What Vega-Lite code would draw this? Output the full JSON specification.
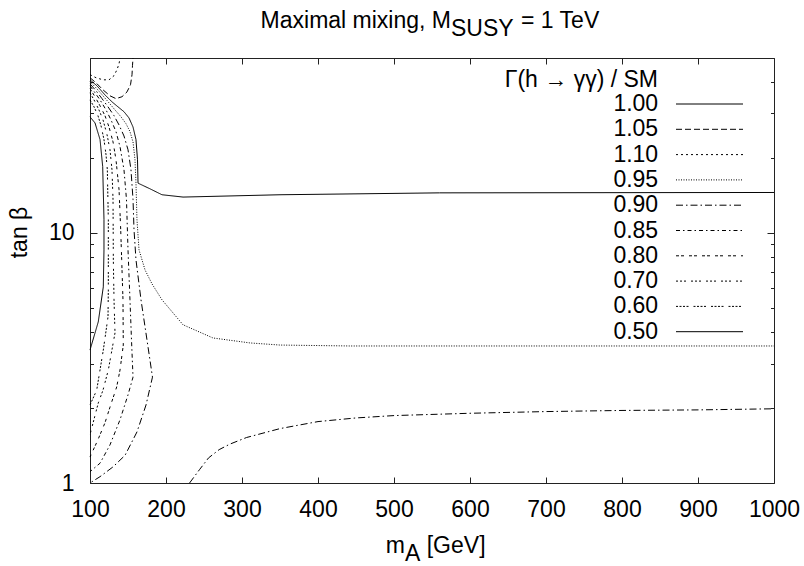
{
  "$schema": "https://vega.github.io/schema/vega-lite/v6.json",
  "width": 684,
  "height": 425,
  "autosize": {"type": "none"},
  "padding": {"left": 90, "top": 58, "right": 30, "bottom": 83},
  "background": "white",
  "config": {
    "view": {"stroke": "#222", "strokeWidth": 1},
    "font": "Liberation Sans",
    "axis": {"labelFont": "Liberation Sans", "labelFontSize": 23, "labelColor": "black", "tickColor": "#222", "domain": false, "grid": false, "labelFlush": false, "labelOverlap": false, "titleFont": "Liberation Sans", "titleFontSize": 23, "titleFontWeight": "normal", "titleColor": "black"},
    "text": {"font": "Liberation Sans", "fontSize": 23, "color": "black"}
  },
  "datasets": {
    "contours": [
      {"level":"1.10","seg":"1.10","i":0,"mA":100,"tanb":42.9},
      {"level":"1.10","seg":"1.10","i":1,"mA":107.9,"tanb":41.7},
      {"level":"1.10","seg":"1.10","i":2,"mA":117.1,"tanb":40.9},
      {"level":"1.10","seg":"1.10","i":3,"mA":125.0,"tanb":40.9},
      {"level":"1.10","seg":"1.10","i":4,"mA":131.6,"tanb":42.5},
      {"level":"1.10","seg":"1.10","i":5,"mA":135.5,"tanb":44.9},
      {"level":"1.10","seg":"1.10","i":6,"mA":138.2,"tanb":47.4},
      {"level":"1.10","seg":"1.10","i":7,"mA":139.5,"tanb":50},
      {"level":"1.05","seg":"1.05","i":0,"mA":100,"tanb":41.7},
      {"level":"1.05","seg":"1.05","i":1,"mA":107.9,"tanb":39.8},
      {"level":"1.05","seg":"1.05","i":2,"mA":117.1,"tanb":37.3},
      {"level":"1.05","seg":"1.05","i":3,"mA":126.3,"tanb":35.3},
      {"level":"1.05","seg":"1.05","i":4,"mA":134.2,"tanb":34.4},
      {"level":"1.05","seg":"1.05","i":5,"mA":142.1,"tanb":35.0},
      {"level":"1.05","seg":"1.05","i":6,"mA":148.7,"tanb":36.6},
      {"level":"1.05","seg":"1.05","i":7,"mA":153.3,"tanb":39.1},
      {"level":"1.05","seg":"1.05","i":8,"mA":155.3,"tanb":42.9},
      {"level":"1.05","seg":"1.05","i":9,"mA":155.9,"tanb":46.6},
      {"level":"1.05","seg":"1.05","i":10,"mA":156.6,"tanb":50},
      {"level":"1.00","seg":"1.00","i":0,"mA":100,"tanb":40.9},
      {"level":"1.00","seg":"1.00","i":1,"mA":109.2,"tanb":38.7},
      {"level":"1.00","seg":"1.00","i":2,"mA":119.7,"tanb":35.6},
      {"level":"1.00","seg":"1.00","i":3,"mA":128.9,"tanb":33.4},
      {"level":"1.00","seg":"1.00","i":4,"mA":136.8,"tanb":31.9},
      {"level":"1.00","seg":"1.00","i":5,"mA":144.7,"tanb":30.5},
      {"level":"1.00","seg":"1.00","i":6,"mA":151.3,"tanb":28.8},
      {"level":"1.00","seg":"1.00","i":7,"mA":156.6,"tanb":26.5},
      {"level":"1.00","seg":"1.00","i":8,"mA":160.5,"tanb":23.6},
      {"level":"1.00","seg":"1.00","i":9,"mA":162.5,"tanb":19.6},
      {"level":"1.00","seg":"1.00","i":10,"mA":163.2,"tanb":15.8},
      {"level":"1.00","seg":"1.00","i":11,"mA":178.9,"tanb":15.0},
      {"level":"1.00","seg":"1.00","i":12,"mA":194.7,"tanb":14.2},
      {"level":"1.00","seg":"1.00","i":13,"mA":222.4,"tanb":13.9},
      {"level":"1.00","seg":"1.00","i":14,"mA":350,"tanb":14.2},
      {"level":"1.00","seg":"1.00","i":15,"mA":560,"tanb":14.45},
      {"level":"1.00","seg":"1.00","i":16,"mA":1000,"tanb":14.5},
      {"level":"0.95","seg":"0.95","i":0,"mA":100,"tanb":40.2},
      {"level":"0.95","seg":"0.95","i":1,"mA":107.9,"tanb":38.0},
      {"level":"0.95","seg":"0.95","i":2,"mA":117.1,"tanb":35.3},
      {"level":"0.95","seg":"0.95","i":3,"mA":125.0,"tanb":33.1},
      {"level":"0.95","seg":"0.95","i":4,"mA":132.9,"tanb":31.0},
      {"level":"0.95","seg":"0.95","i":5,"mA":140.8,"tanb":29.1},
      {"level":"0.95","seg":"0.95","i":6,"mA":147.4,"tanb":27.3},
      {"level":"0.95","seg":"0.95","i":7,"mA":152.6,"tanb":25.4},
      {"level":"0.95","seg":"0.95","i":8,"mA":156.6,"tanb":23.1},
      {"level":"0.95","seg":"0.95","i":9,"mA":159.2,"tanb":19.6},
      {"level":"0.95","seg":"0.95","i":10,"mA":160.5,"tanb":15.8},
      {"level":"0.95","seg":"0.95","i":11,"mA":161.8,"tanb":11.3},
      {"level":"0.95","seg":"0.95","i":12,"mA":164.5,"tanb":8.55},
      {"level":"0.95","seg":"0.95","i":13,"mA":172.4,"tanb":7.11},
      {"level":"0.95","seg":"0.95","i":14,"mA":181.6,"tanb":6.25},
      {"level":"0.95","seg":"0.95","i":15,"mA":194.7,"tanb":5.40},
      {"level":"0.95","seg":"0.95","i":16,"mA":222.4,"tanb":4.29},
      {"level":"0.95","seg":"0.95","i":17,"mA":261.8,"tanb":3.80},
      {"level":"0.95","seg":"0.95","i":18,"mA":310.5,"tanb":3.63},
      {"level":"0.95","seg":"0.95","i":19,"mA":350,"tanb":3.56},
      {"level":"0.95","seg":"0.95","i":20,"mA":442,"tanb":3.53},
      {"level":"0.95","seg":"0.95","i":21,"mA":1000,"tanb":3.53},
      {"level":"0.90","seg":"0.90a","i":0,"mA":100,"tanb":39.4},
      {"level":"0.90","seg":"0.90a","i":1,"mA":107.9,"tanb":37.0},
      {"level":"0.90","seg":"0.90a","i":2,"mA":115.8,"tanb":34.4},
      {"level":"0.90","seg":"0.90a","i":3,"mA":123.7,"tanb":31.9},
      {"level":"0.90","seg":"0.90a","i":4,"mA":131.6,"tanb":29.4},
      {"level":"0.90","seg":"0.90a","i":5,"mA":138.2,"tanb":27.0},
      {"level":"0.90","seg":"0.90a","i":6,"mA":144.7,"tanb":24.4},
      {"level":"0.90","seg":"0.90a","i":7,"mA":150.0,"tanb":21.5},
      {"level":"0.90","seg":"0.90a","i":8,"mA":153.9,"tanb":17.9},
      {"level":"0.90","seg":"0.90a","i":9,"mA":156.6,"tanb":13.6},
      {"level":"0.90","seg":"0.90a","i":10,"mA":157.9,"tanb":10.3},
      {"level":"0.90","seg":"0.90a","i":11,"mA":160.5,"tanb":7.80},
      {"level":"0.90","seg":"0.90a","i":12,"mA":167.1,"tanb":5.40},
      {"level":"0.90","seg":"0.90a","i":13,"mA":175.0,"tanb":3.73},
      {"level":"0.90","seg":"0.90a","i":14,"mA":182.2,"tanb":2.65},
      {"level":"0.90","seg":"0.90a","i":15,"mA":173.7,"tanb":2.05},
      {"level":"0.90","seg":"0.90a","i":16,"mA":161.8,"tanb":1.60},
      {"level":"0.90","seg":"0.90a","i":17,"mA":146.1,"tanb":1.29},
      {"level":"0.90","seg":"0.90a","i":18,"mA":130.3,"tanb":1.16},
      {"level":"0.90","seg":"0.90a","i":19,"mA":113.2,"tanb":1.06},
      {"level":"0.90","seg":"0.90a","i":20,"mA":100,"tanb":1.0},
      {"level":"0.90","seg":"0.90b","i":0,"mA":231,"tanb":1.0},
      {"level":"0.90","seg":"0.90b","i":1,"mA":244,"tanb":1.13},
      {"level":"0.90","seg":"0.90b","i":2,"mA":256,"tanb":1.26},
      {"level":"0.90","seg":"0.90b","i":3,"mA":270,"tanb":1.36},
      {"level":"0.90","seg":"0.90b","i":4,"mA":284,"tanb":1.43},
      {"level":"0.90","seg":"0.90b","i":5,"mA":306,"tanb":1.52},
      {"level":"0.90","seg":"0.90b","i":6,"mA":350,"tanb":1.65},
      {"level":"0.90","seg":"0.90b","i":7,"mA":400,"tanb":1.76},
      {"level":"0.90","seg":"0.90b","i":8,"mA":450,"tanb":1.82},
      {"level":"0.90","seg":"0.90b","i":9,"mA":500,"tanb":1.86},
      {"level":"0.90","seg":"0.90b","i":10,"mA":600,"tanb":1.90},
      {"level":"0.90","seg":"0.90b","i":11,"mA":700,"tanb":1.93},
      {"level":"0.90","seg":"0.90b","i":12,"mA":800,"tanb":1.95},
      {"level":"0.90","seg":"0.90b","i":13,"mA":900,"tanb":1.96},
      {"level":"0.90","seg":"0.90b","i":14,"mA":1000,"tanb":1.98},
      {"level":"0.85","seg":"0.85","i":0,"mA":100,"tanb":38.7},
      {"level":"0.85","seg":"0.85","i":1,"mA":106.6,"tanb":36.3},
      {"level":"0.85","seg":"0.85","i":2,"mA":113.2,"tanb":34.0},
      {"level":"0.85","seg":"0.85","i":3,"mA":121.1,"tanb":31.0},
      {"level":"0.85","seg":"0.85","i":4,"mA":127.6,"tanb":28.3},
      {"level":"0.85","seg":"0.85","i":5,"mA":134.2,"tanb":25.4},
      {"level":"0.85","seg":"0.85","i":6,"mA":139.5,"tanb":22.1},
      {"level":"0.85","seg":"0.85","i":7,"mA":144.7,"tanb":17.9},
      {"level":"0.85","seg":"0.85","i":8,"mA":148.0,"tanb":13.6},
      {"level":"0.85","seg":"0.85","i":9,"mA":150.0,"tanb":8.55},
      {"level":"0.85","seg":"0.85","i":10,"mA":152.6,"tanb":5.40},
      {"level":"0.85","seg":"0.85","i":11,"mA":154.6,"tanb":3.73},
      {"level":"0.85","seg":"0.85","i":12,"mA":156.6,"tanb":2.65},
      {"level":"0.85","seg":"0.85","i":13,"mA":150.0,"tanb":2.25},
      {"level":"0.85","seg":"0.85","i":14,"mA":139.5,"tanb":1.79},
      {"level":"0.85","seg":"0.85","i":15,"mA":126.3,"tanb":1.42},
      {"level":"0.85","seg":"0.85","i":16,"mA":113.2,"tanb":1.20},
      {"level":"0.85","seg":"0.85","i":17,"mA":100,"tanb":1.11},
      {"level":"0.80","seg":"0.80","i":0,"mA":100,"tanb":37.7},
      {"level":"0.80","seg":"0.80","i":1,"mA":106.6,"tanb":35.0},
      {"level":"0.80","seg":"0.80","i":2,"mA":113.2,"tanb":32.2},
      {"level":"0.80","seg":"0.80","i":3,"mA":119.7,"tanb":29.4},
      {"level":"0.80","seg":"0.80","i":4,"mA":125.0,"tanb":26.5},
      {"level":"0.80","seg":"0.80","i":5,"mA":130.3,"tanb":23.1},
      {"level":"0.80","seg":"0.80","i":6,"mA":134.2,"tanb":19.6},
      {"level":"0.80","seg":"0.80","i":7,"mA":138.2,"tanb":14.9},
      {"level":"0.80","seg":"0.80","i":8,"mA":140.4,"tanb":10.3},
      {"level":"0.80","seg":"0.80","i":9,"mA":141.7,"tanb":7.80},
      {"level":"0.80","seg":"0.80","i":10,"mA":143.4,"tanb":5.40},
      {"level":"0.80","seg":"0.80","i":11,"mA":143.8,"tanb":3.56},
      {"level":"0.80","seg":"0.80","i":12,"mA":139.5,"tanb":2.83},
      {"level":"0.80","seg":"0.80","i":13,"mA":135.1,"tanb":2.42},
      {"level":"0.80","seg":"0.80","i":14,"mA":126.3,"tanb":2.01},
      {"level":"0.80","seg":"0.80","i":15,"mA":119.7,"tanb":1.74},
      {"level":"0.80","seg":"0.80","i":16,"mA":110.5,"tanb":1.49},
      {"level":"0.80","seg":"0.80","i":17,"mA":100,"tanb":1.27},
      {"level":"0.70","seg":"0.70","i":0,"mA":100,"tanb":36.3},
      {"level":"0.70","seg":"0.70","i":1,"mA":105.3,"tanb":34.0},
      {"level":"0.70","seg":"0.70","i":2,"mA":111.8,"tanb":31.0},
      {"level":"0.70","seg":"0.70","i":3,"mA":117.1,"tanb":28.3},
      {"level":"0.70","seg":"0.70","i":4,"mA":122.4,"tanb":24.7},
      {"level":"0.70","seg":"0.70","i":5,"mA":126.3,"tanb":21.5},
      {"level":"0.70","seg":"0.70","i":6,"mA":128.9,"tanb":17.9},
      {"level":"0.70","seg":"0.70","i":7,"mA":130.3,"tanb":13.6},
      {"level":"0.70","seg":"0.70","i":8,"mA":130.7,"tanb":7.80},
      {"level":"0.70","seg":"0.70","i":9,"mA":131.6,"tanb":5.40},
      {"level":"0.70","seg":"0.70","i":10,"mA":132.9,"tanb":3.98},
      {"level":"0.70","seg":"0.70","i":11,"mA":124.1,"tanb":2.83},
      {"level":"0.70","seg":"0.70","i":12,"mA":117.1,"tanb":2.35},
      {"level":"0.70","seg":"0.70","i":13,"mA":110.9,"tanb":2.09},
      {"level":"0.70","seg":"0.70","i":14,"mA":100,"tanb":1.56},
      {"level":"0.60","seg":"0.60","i":0,"mA":100,"tanb":34.0},
      {"level":"0.60","seg":"0.60","i":1,"mA":105.3,"tanb":31.9},
      {"level":"0.60","seg":"0.60","i":2,"mA":110.5,"tanb":29.4},
      {"level":"0.60","seg":"0.60","i":3,"mA":114.5,"tanb":26.8},
      {"level":"0.60","seg":"0.60","i":4,"mA":118.4,"tanb":23.6},
      {"level":"0.60","seg":"0.60","i":5,"mA":121.1,"tanb":20.5},
      {"level":"0.60","seg":"0.60","i":6,"mA":122.8,"tanb":17.9},
      {"level":"0.60","seg":"0.60","i":7,"mA":124.1,"tanb":11.3},
      {"level":"0.60","seg":"0.60","i":8,"mA":124.1,"tanb":5.92},
      {"level":"0.60","seg":"0.60","i":9,"mA":123.7,"tanb":4.61},
      {"level":"0.60","seg":"0.60","i":10,"mA":117.5,"tanb":3.40},
      {"level":"0.60","seg":"0.60","i":11,"mA":108.8,"tanb":2.35},
      {"level":"0.60","seg":"0.60","i":12,"mA":100,"tanb":2.05},
      {"level":"0.50","seg":"0.50","i":0,"mA":100,"tanb":29.1},
      {"level":"0.50","seg":"0.50","i":1,"mA":106.6,"tanb":27.5},
      {"level":"0.50","seg":"0.50","i":2,"mA":113.2,"tanb":23.6},
      {"level":"0.50","seg":"0.50","i":3,"mA":116.7,"tanb":18.4},
      {"level":"0.50","seg":"0.50","i":4,"mA":118.4,"tanb":11.3},
      {"level":"0.50","seg":"0.50","i":5,"mA":118.4,"tanb":8.55},
      {"level":"0.50","seg":"0.50","i":6,"mA":117.5,"tanb":6.08},
      {"level":"0.50","seg":"0.50","i":7,"mA":110.9,"tanb":4.41},
      {"level":"0.50","seg":"0.50","i":8,"mA":100,"tanb":3.40}
    ]
  },
  "resolve": {"axis": {"x": "independent", "y": "independent"}},
  "layer": [
    {
      "data": {"name": "contours"},
      "mark": {"type": "line", "color": "black", "strokeWidth": 1},
      "encoding": {
        "x": {"field": "mA", "type": "quantitative", "scale": {"domain": [100, 1000], "nice": false, "zero": false},
          "axis": {"orient": "bottom", "values": [100,200,300,400,500,600,700,800,900,1000], "format": "d", "tickSize": -6, "labelPadding": 21, "title": null}},
        "y": {"field": "tanb", "type": "quantitative", "scale": {"type": "log", "domain": [1, 50], "nice": false},
          "axis": {"orient": "left", "values": [1, 10], "format": "d", "tickSize": -7, "labelPadding": 23, "title": "tan β", "titleX": -63.5, "titleY": 174, "titleAngle": -90, "titleBaseline": "alphabetic", "titleAlign": "center"}},
        "strokeDash": {"field": "level", "type": "nominal",
          "scale": {"domain": ["1.00","1.05","1.10","0.95","0.90","0.85","0.80","0.70","0.60","0.50"],
                    "range": [[1,0],[6,3],[2,3],[1,1.5],[7,3,1.5,3],[4,3,1.5,3],[3,2,3,5],[2,2,2,2,2,5],[2,1.5,2,1.5,2,1.5,2,5],[1,0]]},
          "legend": {"title": null, "orient": "none", "legendX": 608, "legendY": 34.5, "padding": 0,
            "symbolType": "M-10,0H10", "symbolSize": 44.89, "symbolStrokeWidth": 1, "symbolStrokeColor": "black", "symbolFillColor": "transparent",
            "labelFont": "Liberation Sans", "labelFontSize": 23, "labelColor": "black", "labelAlign": "right", "labelOffset": -62.85, "labelLimit": 0,
            "rowPadding": 1.3}},
        "detail": {"field": "seg"},
        "order": {"field": "i", "type": "quantitative"}
      }
    },
    {
      "data": {"values": [{}]},
      "mark": {"type": "text", "align": "right", "baseline": "alphabetic", "text": "Γ(h → γγ) / SM"},
      "encoding": {
        "x": {"datum": 847.4, "type": "quantitative", "axis": null},
        "y": {"datum": 38.4, "type": "quantitative", "axis": null}
      }
    },
    {
      "data": {"values": [{}]},
      "mark": {"type": "text", "align": "right", "baseline": "alphabetic", "text": "Maximal mixing, M"},
      "encoding": {
        "x": {"datum": 575, "type": "quantitative", "axis": {"orient": "top", "values": [100,200,300,400,500,600,700,800,900,1000], "tickSize": -6, "labels": false, "title": null}},
        "y": {"datum": 66.2, "type": "quantitative", "axis": null}
      }
    },
    {
      "data": {"values": [{}]},
      "mark": {"type": "text", "align": "left", "baseline": "alphabetic", "text": "SUSY"},
      "encoding": {
        "x": {"datum": 575, "type": "quantitative", "axis": null},
        "y": {"datum": 61.2, "type": "quantitative", "axis": {"orient": "right", "values": [1, 10], "tickSize": -7, "labels": false, "title": null}}
      }
    },
    {
      "data": {"values": [{}]},
      "mark": {"type": "text", "align": "left", "baseline": "alphabetic", "dx": 70, "text": "= 1 TeV"},
      "encoding": {
        "x": {"datum": 575, "type": "quantitative", "axis": null},
        "y": {"datum": 66.2, "type": "quantitative", "axis": {"orient": "right", "values": [2,3,4,5,6,7,8,9,20,30,40,50], "tickSize": -3.5, "labels": false, "title": null}}
      }
    },
    {
      "data": {"values": [{}]},
      "mark": {"type": "text", "align": "right", "baseline": "alphabetic", "text": "m"},
      "encoding": {
        "x": {"datum": 514.5, "type": "quantitative", "axis": null},
        "y": {"datum": 0.525, "type": "quantitative", "axis": {"orient": "left", "values": [2,3,4,5,6,7,8,9,20,30,40,50], "tickSize": -3.5, "labels": false, "title": null}}
      }
    },
    {
      "data": {"values": [{}]},
      "mark": {"type": "text", "align": "left", "baseline": "alphabetic", "text": "A"},
      "encoding": {
        "x": {"datum": 514.5, "type": "quantitative", "axis": null},
        "y": {"datum": 0.488, "type": "quantitative", "axis": null}
      }
    },
    {
      "data": {"values": [{}]},
      "mark": {"type": "text", "align": "left", "baseline": "alphabetic", "dx": 21.7, "text": "[GeV]"},
      "encoding": {
        "x": {"datum": 514.5, "type": "quantitative", "axis": null},
        "y": {"datum": 0.525, "type": "quantitative", "axis": null}
      }
    }
  ]
}
